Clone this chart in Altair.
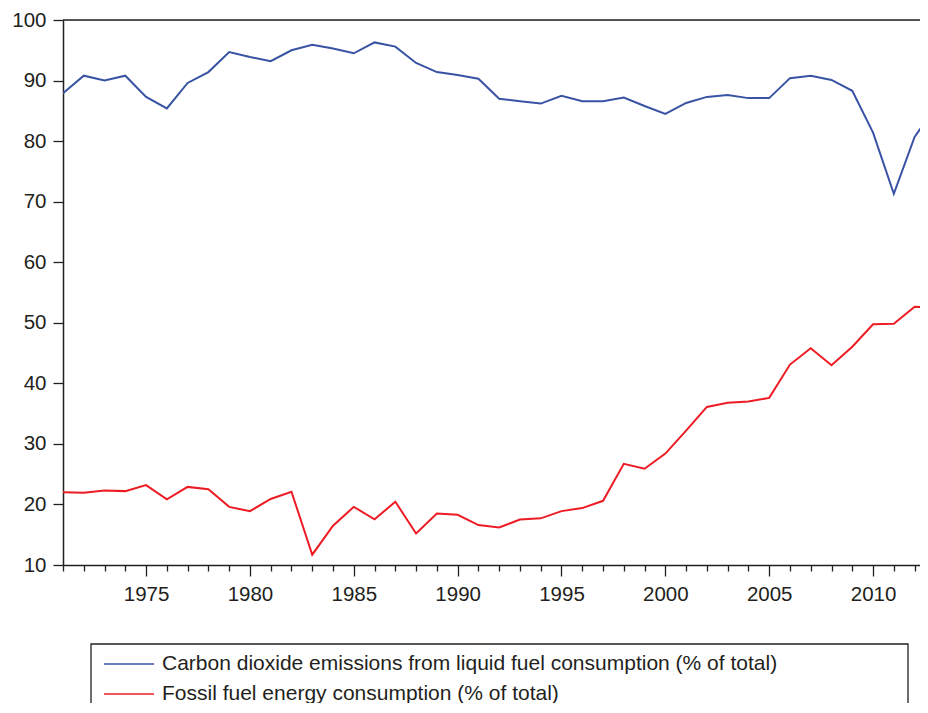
import altair as alt
import pandas as pd

years = list(range(1971, 2014))

co2_liquid = [87.9, 90.8, 90.0, 90.8, 87.3, 85.4, 89.6, 91.4, 94.7, 93.9,
              93.2, 95.0, 95.9, 95.3, 94.5, 96.3, 95.6, 92.9, 91.4, 90.9,
              90.3, 87.0, 86.6, 86.2, 87.5, 86.6, 86.6, 87.2, 85.8, 84.5,
              86.3, 87.3, 87.6, 87.1, 87.1, 90.4, 90.8, 90.1, 88.3, 81.4,
              71.3, 80.7, 85.6]

fossil_energy = [22.0, 21.95, 22.3, 22.2, 23.2, 20.85, 22.9, 22.5, 19.6, 18.9,
                 20.9, 22.1, 11.7, 16.5, 19.6, 17.55, 20.45, 15.2, 18.5, 18.3,
                 16.6, 16.2, 17.5, 17.7, 18.9, 19.4, 20.6, 26.7, 25.9, 28.4,
                 32.2, 36.1, 36.8, 37.0, 37.6, 43.1, 45.8, 43.0, 46.05, 49.75,
                 49.85, 52.65, 52.5]

series_names = ["Carbon dioxide emissions from liquid fuel consumption (% of total)",
                "Fossil fuel energy consumption (% of total)"]
series_colors = ["#3953a4", "#ed1c24"]

y_ticks = [10, 20, 30, 40, 50, 60, 70, 80, 90, 100]
x_ticks = years

rows = []
for i, yr in enumerate(years):
    rows.append({"year": yr, "value": co2_liquid[i], "series": series_names[0]})
    rows.append({"year": yr, "value": fossil_energy[i], "series": series_names[1]})
df = pd.DataFrame(rows)

FONT = "Liberation Sans"
INK = "#231f20"

x_scale = alt.Scale(domain=[1971, 2012.26], nice=False, zero=False)
y_scale = alt.Scale(domain=[10, 100], nice=False, zero=False)

lines = alt.Chart(df).mark_line(strokeWidth=2, clip=True).encode(
    x=alt.X("year:Q", scale=x_scale,
            axis=alt.Axis(values=x_ticks, title=None, grid=False,
                          labelExpr="datum.value % 5 === 0 ? toString(datum.value) : ''",
                          labelOverlap=False,
                          tickSize={"condition": {"test": "datum.value % 5 !== 0", "value": 6}, "value": 11},
                          labelPadding=8, labelFontSize=20.5, labelFont=FONT,
                          labelColor=INK, tickColor=INK, domainColor=INK,
                          domainWidth=1.5, tickWidth=1.3)),
    y=alt.Y("value:Q", scale=y_scale,
            axis=alt.Axis(values=y_ticks, title=None, grid=False,
                          tickSize=10, labelPadding=7, labelFontSize=20.5,
                          labelFont=FONT, labelColor=INK, tickColor=INK,
                          domainColor=INK, domainWidth=1.5, tickWidth=1.3)),
    color=alt.Color("series:N",
                    scale=alt.Scale(domain=series_names, range=series_colors),
                    sort=series_names,
                    legend=alt.Legend(title=None, orient="none", legendX=40, legendY=634,
                                      symbolType="stroke", symbolSize=2500,
                                      symbolStrokeWidth=1.5, clipHeight=20,
                                      rowPadding=9, labelOffset=7,
                                      labelFont=FONT, labelFontSize=21,
                                      labelColor=INK, labelLimit=0, padding=0)),
)

top_border = alt.Chart(pd.DataFrame({"y": [100]})).mark_rule(
    color=INK, strokeWidth=1.5).encode(y=alt.Y("y:Q", scale=y_scale))

legend_box = alt.Chart(pd.DataFrame({"k": [0]})).mark_rect(
    fill="white", stroke=INK, strokeWidth=1.3, clip=False).encode(
    x=alt.value(28), x2=alt.value(845), y=alt.value(624), y2=alt.value(720))

chart = alt.layer(legend_box, top_border, lines).properties(
    width=857, height=545,
    autosize=alt.AutoSizeParams(type="none"),
    padding={"left": 55, "top": 12, "right": 0, "bottom": 138},
).configure_view(stroke=None).configure(background="white")

chart.save("out.html", embed_options={"renderer": "svg", "actions": False})
